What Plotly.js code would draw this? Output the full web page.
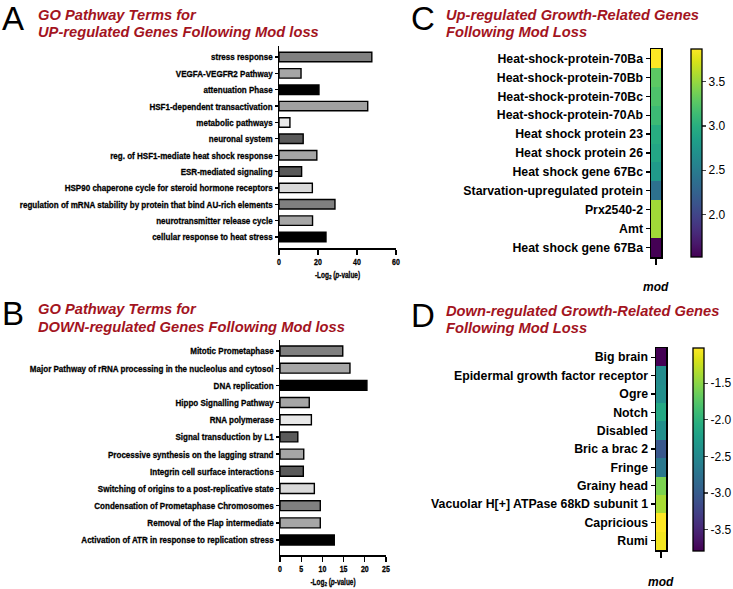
<!DOCTYPE html>
<html>
<head>
<meta charset="utf-8">
<script src="https://cdn.plot.ly/plotly-3.0.1.min.js"></script>
<style>html,body{margin:0;padding:0;background:#fff;}#chart{width:733px;height:589px;}</style>
</head>
<body>
<div id="chart"></div>
<script>
// ---------- DATA ----------
const upTerms = ['stress response','VEGFA-VEGFR2 Pathway','attenuation Phase','HSF1-dependent transactivation','metabolic pathways','neuronal system','reg. of HSF1-mediate heat shock response','ESR-mediated signaling','HSP90 chaperone cycle for steroid hormone receptors','regulation of mRNA stability by protein that bind AU-rich elements','neurotransmitter release cycle','cellular response to heat stress'];
const upValues = [47.6, 11.3, 20.5, 45.5, 5.6, 12.4, 19.4, 11.6, 17.1, 28.7, 17.2, 24.1];
const upColors = ['#808080','#a6a6a6','#000000','#a0a0a0','#e8e8e8','#5a5a5a','#a6a6a6','#5a5a5a','#d9d9d9','#808080','#a6a6a6','#000000'];
const upTicks = [0, 20, 40, 60];

const downTerms = ['Mitotic Prometaphase','Major Pathway of rRNA processing in the nucleolus and cytosol','DNA replication','Hippo Signalling Pathway','RNA polymerase','Signal transduction by L1','Processive synthesis on the lagging strand','Integrin cell surface interactions','Switching of origins to a post-replicative state','Condensation of Prometaphase Chromosomes','Removal of the Flap intermediate','Activation of ATR in response to replication stress'];
const downValues = [14.8, 16.5, 20.5, 6.9, 7.4, 4.2, 5.6, 5.5, 8.1, 9.5, 9.5, 12.8];
const downColors = ['#808080','#a6a6a6','#000000','#a6a6a6','#e8e8e8','#5a5a5a','#a6a6a6','#5a5a5a','#d9d9d9','#808080','#a6a6a6','#000000'];
const downTicks = [0, 5, 10, 15, 20, 25];

const upGenes = ['Heat-shock-protein-70Ba','Heat-shock-protein-70Bb','Heat-shock-protein-70Bc','Heat-shock-protein-70Ab','Heat shock protein 23','Heat shock protein 26','Heat shock gene 67Bc','Starvation-upregulated protein','Prx2540-2','Amt','Heat shock gene 67Ba'];
const upGeneValues = [3.87, 3.28, 3.21, 3.12, 2.98, 2.91, 2.79, 2.39, 3.54, 3.54, 1.52];
const upScaleTicks = [2.0, 2.5, 3.0, 3.5];

const downGenes = ['Big brain','Epidermal growth factor receptor','Ogre','Notch','Disabled','Bric a brac 2','Fringe','Grainy head','Vacuolar H[+] ATPase 68kD subunit 1','Capricious','Rumi'];
const downGeneValues = [-3.79, -2.46, -2.42, -2.13, -2.42, -3.04, -2.68, -1.57, -1.38, -1.02, -1.07];
const downScaleTicks = [-3.5, -3.0, -2.5, -2.0, -1.5];

const columnLabel = ['mod'];

// ---------- LAYOUT HELPERS ----------
const W = 733, H = 589;
const px = v => v / W;
const py = v => 1 - v / H;

const titleRed = '#a3141e';
const sans = 'Liberation Sans, Arial, Helvetica, sans-serif';

const traces = [
  {type:'bar', orientation:'h', x: upValues, y: upTerms, xaxis:'x', yaxis:'y',
   marker:{color: upColors, line:{color:'#000', width:1.4}}, hoverinfo:'x+y'},
  {type:'bar', orientation:'h', x: downValues, y: downTerms, xaxis:'x2', yaxis:'y2',
   marker:{color: downColors, line:{color:'#000', width:1.4}}, hoverinfo:'x+y'},
  {type:'heatmap', x: columnLabel, y: upGenes, z: upGeneValues.map(v => [v]), xaxis:'x3', yaxis:'y3',
   colorscale:'Viridis', zmin:1.52, zmax:3.87,
   colorbar:{x:px(691), xanchor:'left', y:py(49), yanchor:'top', lenmode:'pixels', len:208,
     thicknessmode:'pixels', thickness:11, xpad:0, ypad:0, outlinewidth:1.3, outlinecolor:'#000',
     tickvals: upScaleTicks, ticktext: upScaleTicks.map(v => v.toFixed(1)), ticks:'outside', ticklen:4, tickwidth:1.3,
     tickfont:{family:sans, size:12, color:'#000'}}},
  {type:'heatmap', x: columnLabel, y: downGenes, z: downGeneValues.map(v => [v]), xaxis:'x4', yaxis:'y4',
   colorscale:'Viridis', zmin:-3.79, zmax:-1.02,
   colorbar:{x:px(693), xanchor:'left', y:py(348), yanchor:'top', lenmode:'pixels', len:203,
     thicknessmode:'pixels', thickness:11, xpad:0, ypad:0, outlinewidth:1.3, outlinecolor:'#000',
     tickvals: downScaleTicks, ticktext: downScaleTicks.map(v => v.toFixed(1)), ticks:'outside', ticklen:4, tickwidth:1.3,
     tickfont:{family:sans, size:12, color:'#000'}}}
];

const barX = (dom, ticks, rng, anchor) => ({
  domain: dom, anchor, range: rng, showline:true, linecolor:'#000', linewidth:1.5, zeroline:false, showgrid:false,
  ticks:'outside', ticklen:5, tickwidth:1.3, tickcolor:'#000', tickvals: ticks, fixedrange:true,
  tickfont:{family:sans, size:9, color:'#000', weight:'bold'},
  title:{text:'-Log<sub>2</sub> (<i>p</i>-value)', font:{family:sans, size:8.6, color:'#000', weight:'bold'}, standoff:5}
});
const barY = (dom, rng, anchor) => ({
  domain: dom, anchor, type:'category', range: rng, showline:true, linecolor:'#000', linewidth:1.5, showgrid:false, zeroline:false,
  ticks:'outside', ticklen:3, tickwidth:1.3, tickcolor:'#000', fixedrange:true,
  tickfont:{family:sans, size:9.8, color:'#000', weight:'bold'}
});
const hmX = (dom, anchor) => ({
  domain: dom, anchor, showline:true, mirror:true, linecolor:'#000', linewidth:1.5, showgrid:false, zeroline:false,
  ticks:'outside', ticklen:6, tickwidth:1.3, tickcolor:'#000', showticklabels:false, fixedrange:true
});
const hmY = (dom, anchor) => ({
  domain: dom, anchor, type:'category', autorange:'reversed', showline:true, mirror:true, linecolor:'#000', linewidth:1.5,
  showgrid:false, zeroline:false, ticks:'outside', ticklen:4, tickwidth:1.3, tickcolor:'#000', fixedrange:true,
  tickfont:{family:sans, size:12.3, color:'#000', weight:'bold'}
});

const ann = (text, x, y, size, opts) => Object.assign({
  text, x: px(x), y: py(y), xref:'paper', yref:'paper', xanchor:'left', yanchor:'middle', showarrow:false,
  font:{family:sans, size, color:'#000'}
}, opts || {});
const tfont = {family:sans, size:14.7, color:titleRed, weight:'bold', style:'italic'};

const layout = {
  width: W, height: H, margin:{l:0, r:0, t:0, b:0}, paper_bgcolor:'#fff', plot_bgcolor:'#fff',
  showlegend:false, bargap:0.42,
  xaxis: barX([px(279), px(396)], upTicks, [0, 60], 'y'),
  yaxis: barY([py(248), py(46)], [11.67, -0.67], 'x'),
  xaxis2: barX([px(280), px(386)], downTicks, [0, 25], 'y2'),
  yaxis2: barY([py(555), py(340)], [11.87, -0.64], 'x2'),
  xaxis3: hmX([px(651), px(661)], 'y3'),
  yaxis3: hmY([py(257), py(49)], 'x3'),
  xaxis4: hmX([px(656), px(666)], 'y4'),
  yaxis4: hmY([py(550), py(348)], 'x4'),
  annotations: [
    ann('A', 0, 19, 33),
    ann('GO Pathway Terms for', 36, 15, 14, {font:tfont}),
    ann('UP-regulated Genes Following Mod loss', 36, 32, 14, {font:tfont}),
    ann('B', 0, 313, 33),
    ann('GO Pathway Terms for', 36, 309, 14, {font:tfont}),
    ann('DOWN-regulated Genes Following Mod loss', 36, 327, 14, {font:tfont}),
    ann('C', 409, 19, 33),
    ann('Up-regulated Growth-Related Genes', 444, 15, 14, {font:tfont}),
    ann('Following Mod Loss', 444, 32, 14, {font:tfont}),
    ann('D', 409, 315, 33),
    ann('Down-regulated Growth-Related Genes', 444, 311, 14, {font:tfont}),
    ann('Following Mod Loss', 444, 328, 14, {font:tfont}),
    ann(columnLabel[0], 656, 287, 12, {xanchor:'center', font:{family:sans, size:12, color:'#000', weight:'bold', style:'italic'}}),
    ann(columnLabel[0], 661, 582, 12, {xanchor:'center', font:{family:sans, size:12, color:'#000', weight:'bold', style:'italic'}})
  ]
};

// Horizontally condense texts (emulates a narrow bold typeface) around their anchor point
function condense(nodes, s) {
  nodes.forEach(el => {
    const bb = el.getBBox();
    const anchor = el.getAttribute('text-anchor') || 'start';
    const ax = anchor === 'end' ? bb.x + bb.width : anchor === 'middle' ? bb.x + bb.width / 2 : bb.x;
    const orig = el.getAttribute('transform') || '';
    el.setAttribute('transform', `${orig} translate(${ax},0) scale(${s},1) translate(${-ax},0)`);
    el.style.stroke = '#000';
    el.style.strokeWidth = '0.3px';
  });
}

Plotly.newPlot('chart', traces, layout, {displayModeBar:false, staticPlot:true}).then(gd => {
  const q = sel => Array.from(gd.querySelectorAll(sel));
  condense(q('g.ytick text, g.y2tick text'), 0.82);
  condense(q('g.xtick text, g.x2tick text'), 0.78);
  condense(q('text.xtitle, text.x2title'), 0.75);
});
</script>
</body>
</html>
